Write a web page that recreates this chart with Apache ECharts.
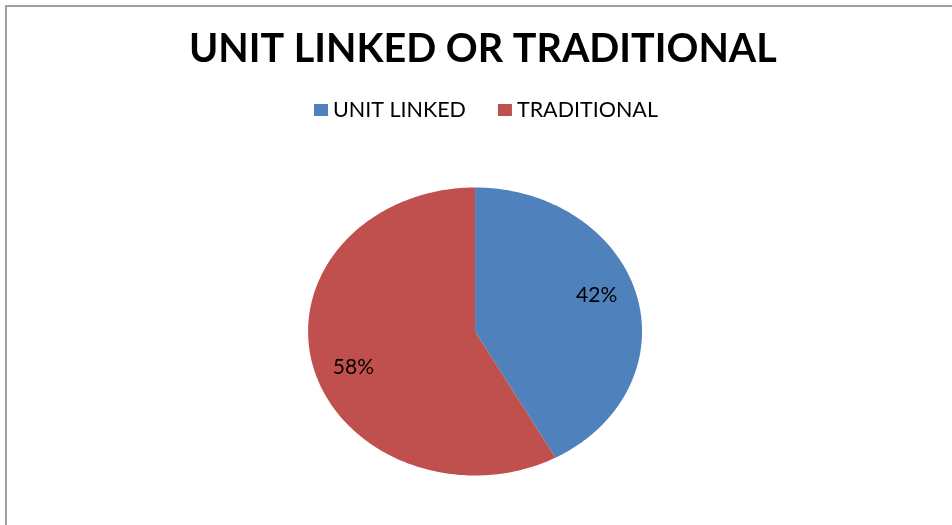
<!DOCTYPE html>
<html><head><meta charset="utf-8">
<script src="https://cdn.jsdelivr.net/npm/echarts@6/dist/echarts.min.js"></script>
<style>html,body{margin:0;padding:0;background:#fff}#c{width:952px;height:525px}</style>
</head><body><div id="c"></div>
<script>
const titleText = 'UNIT LINKED OR TRADITIONAL';
const categories = ['UNIT LINKED', 'TRADITIONAL'];
const values = [42, 58];
const colors = ['#4F81BD', '#C0504D'];

const total = values.reduce((a, b) => a + b, 0);
const startFrac = values.map((v, i) => values.slice(0, i).reduce((a, b) => a + b, 0) / total);

function makeRender(idx) {
  return function (params, api) {
    const W = api.getWidth(), H = api.getHeight();
    const cx = W * 0.499, cy = H * 0.6314, rx = W * 0.1754, ry = H * 0.2743;
    const v = api.value(0);
    const a0 = startFrac[idx] * Math.PI * 2;
    const a1 = a0 + v / total * Math.PI * 2;
    const n = Math.max(2, Math.ceil((a1 - a0) / (Math.PI * 2) * 360));
    const pts = [[cx, cy]];
    for (let k = 0; k <= n; k++) {
      const a = a0 + (a1 - a0) * k / n;
      pts.push([cx + rx * Math.sin(a), cy - ry * Math.cos(a)]);
    }
    const am = (a0 + a1) / 2 - 0.08, lr = 0.77;
    return {
      type: 'group',
      children: [
        { type: 'polygon', shape: { points: pts }, style: { fill: api.visual('color') } },
        { type: 'text', x: cx + rx * lr * Math.sin(am), y: cy - ry * lr * Math.cos(am),
          style: { text: Math.round(v / total * 100) + '%', fill: '#000', font: '21px Lato',
                   align: 'center', verticalAlign: 'middle' } }
      ]
    };
  };
}

const chart = echarts.init(document.getElementById('c'), null, { renderer: 'canvas' });
chart.setOption({
  animation: false,
  backgroundColor: '#fff',
  color: colors,
  title: {
    text: titleText, left: 189, top: 29, padding: 0,
    textStyle: { fontFamily: 'Lato', fontWeight: 'bold', fontSize: 39.5, color: '#000' }
  },
  legend: {
    data: categories, left: 314, top: 99, padding: 0, icon: 'rect',
    itemWidth: 14, itemHeight: 12, itemGap: 32,
    textStyle: { fontFamily: 'Lato', fontSize: 21.5, color: '#000' }
  },
  graphic: [{
    type: 'rect', shape: { x: 6, y: 6, width: 1200, height: 1200 },
    style: { fill: 'none', stroke: '#a0a0a0', lineWidth: 2 }, silent: true
  }],
  series: categories.map((name, i) => ({
    type: 'custom', name: name, coordinateSystem: 'none',
    itemStyle: { color: colors[i] },
    renderItem: makeRender(i),
    data: [[values[i]]]
  }))
});
</script></body></html>
